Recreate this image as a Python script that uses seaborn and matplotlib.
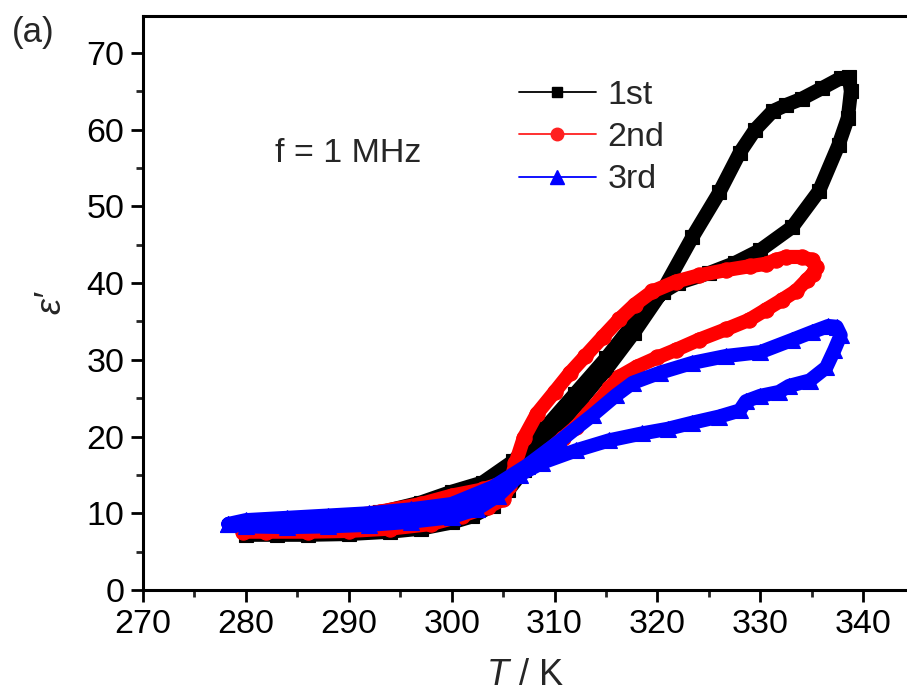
import numpy as np
import pandas as pd
import matplotlib
matplotlib.use("Agg")
import matplotlib.pyplot as plt
from matplotlib.lines import Line2D
from matplotlib.ticker import MultipleLocator
import seaborn as sns

# ---- data: dielectric constant vs temperature, three thermal cycles (f = 1 MHz) ----
t_1st = [280.0, 283, 286, 290, 294, 297, 300, 302, 304, 305.5, 307, 308.1, 310, 312.6,
         315, 317.7, 320.5, 323.4, 326, 328, 329.5, 331.2, 332.5, 334, 336, 337.8, 338.6,
         338.8, 338.5, 337.6, 335.7, 333.1, 330, 327.5, 325, 322, 320.5, 318, 315, 312,
         309, 306, 303, 300, 297, 293, 289, 285, 281, 280]
e_1st = [7.2, 7.2, 7.2, 7.3, 7.6, 8.0, 8.8, 9.6, 11.0, 13.0, 15.6, 17.8, 20.8, 24.8,
         28.7, 33.5, 39.0, 46.0, 51.8, 57.0, 60.0, 62.4, 63.2, 64.0, 65.4, 66.7, 66.8,
         65.0, 61.5, 58.0, 52.0, 47.3, 44.3, 42.6, 41.3, 40.0, 38.8, 35.3, 30.2, 25.6,
         21.0, 16.8, 14.0, 12.8, 11.4, 10.1, 9.1, 8.4, 7.9, 7.8]

t_2nd = [279.7, 282, 286, 290, 294, 298, 301, 303.5, 305, 305.6, 306.2, 307, 308.3, 310,
         311.5, 313, 314.7, 316.3, 317.8, 319.5, 321.8, 324, 326.7, 329, 330.5, 331.5,
         332.5, 334, 335, 335.4, 335.1, 334.5, 333.5, 332.1, 330.5, 328.9, 326.7, 324,
         321.8, 320, 318, 316.3, 315.3, 314.4, 313.2, 312.1, 310.8, 309.5, 307.3, 305.5,
         303, 300, 297, 293, 289, 285, 281, 279.7]
e_2nd = [7.6, 7.6, 7.6, 7.7, 8.0, 8.6, 9.7, 10.8, 11.8, 13.5, 16.5, 19.8, 23.0, 25.8,
         28.3, 30.5, 33.0, 35.3, 37.2, 38.9, 40.2, 41.0, 41.7, 42.2, 42.5, 43.0,
         43.4, 43.4, 43.0, 42.1, 41.2, 40.4, 39.0, 37.8, 36.5, 35.2, 34.0, 32.6,
         31.3, 30.3, 29.1, 27.8, 26.3, 24.8, 23.0, 21.3, 19.8, 18.3, 16.0, 14.2,
         13.1, 12.3, 11.2, 10.2, 9.4, 8.8, 8.3, 8.1]

t_3rd = [278.3, 280, 284, 288, 292, 296, 300, 302.5, 304.5, 306.6, 308.8, 312.1, 315.3,
         318.5, 321, 323.4, 326, 328, 328.6, 330, 331.8, 332.8, 334.8, 336.4, 337.2,
         337.8, 337.4, 336.6, 335, 333.1, 330, 326.7, 323.4, 320.2, 317.6, 316, 313.7,
         310.5, 307.3, 304, 302, 300, 296, 292, 288, 284, 280, 278.3]
e_3rd = [8.6, 8.3, 8.2, 8.3, 8.5, 8.9, 9.5, 10.6, 12.3, 15.0, 16.6, 18.2, 19.5,
         20.4, 21.0, 21.8, 22.6, 23.4, 24.6, 25.3, 25.8, 26.6, 27.3, 29.0, 31.3,
         33.2, 34.3, 34.4, 33.6, 32.6, 31.0, 30.5, 29.6, 28.3, 27.0, 25.4, 22.8,
         19.4, 16.2, 13.4, 12.3, 11.2, 10.5, 10.0, 9.7, 9.4, 9.1, 8.6]

cycle_labels = ["1st", "2nd", "3rd"]
cycle_colors = ["#000000", "#ff0000", "#0000ff"]
cycle_markers = ["s", "o", "^"]
marker_sizes = [10.5, 11.0, 12.0]

frames = []
for lab, t, e in zip(cycle_labels, [t_1st, t_2nd, t_3rd], [e_1st, e_2nd, e_3rd]):
    frames.append(pd.DataFrame({"T": t, "eps": e, "cycle": lab,
                                "order": np.arange(len(t))}))
df = pd.concat(frames, ignore_index=True)

# ---- style ----
sns.set_style("ticks")
plt.rcParams["font.family"] = ["Liberation Sans", "DejaVu Sans"]
plt.rcParams["mathtext.fontset"] = "custom"
plt.rcParams["mathtext.rm"] = "Liberation Sans"
plt.rcParams["mathtext.it"] = "Liberation Sans:italic"

fig = plt.figure(figsize=(9.07, 6.97), dpi=100)
ax = fig.add_axes([143 / 907, 1 - 590 / 697, 764 / 907, (590 - 16) / 697])

for lab, col, mk, ms in zip(cycle_labels, cycle_colors, cycle_markers, marker_sizes):
    sub = df[df["cycle"] == lab]
    sns.lineplot(data=sub, x="T", y="eps", sort=False, estimator=None, ax=ax,
                 color=col, linewidth=10.2, marker=mk, markersize=ms,
                 markeredgecolor=col, markeredgewidth=0.8,
                 solid_joinstyle="round", solid_capstyle="round", legend=False)

ax.set_xlim(270, 344.25)
ax.set_ylim(0, 74.8)
ax.xaxis.set_major_locator(MultipleLocator(10))
ax.xaxis.set_minor_locator(MultipleLocator(5))
ax.yaxis.set_major_locator(MultipleLocator(10))
ax.yaxis.set_minor_locator(MultipleLocator(5))

ax.tick_params(which="major", direction="out", length=8.5, width=2.0,
               labelsize=24.5, pad=5, colors="black")
ax.tick_params(which="minor", direction="out", length=5, width=2.0)
ax.xaxis.set_ticks_position("bottom")
ax.yaxis.set_ticks_position("left")

for side in ["left", "bottom", "top"]:
    ax.spines[side].set_linewidth(2.2)
    ax.spines[side].set_color("black")
ax.spines["right"].set_visible(False)

ax.set_xlabel(r"$T$ / K", fontsize=26, labelpad=13)
ax.set_ylabel("ε′", fontsize=26, fontstyle="italic", labelpad=13)

ax.text(282.8, 55.8, "f = 1 MHz", fontsize=24.5, ha="left", va="baseline")
fig.text(12 / 907, 1 - 42 / 697, "(a)", fontsize=25, ha="left", va="baseline")

handles = [Line2D([], [], color="#000000", lw=1.3, marker="s", markersize=7.5),
           Line2D([], [], color="#ff2020", lw=1.3, marker="o", markersize=9),
           Line2D([], [], color="#0000ff", lw=1.3, marker="^", markersize=10)]
ax.legend(handles, cycle_labels, loc="upper left",
          bbox_to_anchor=(519 / 907, 1 - 80 / 697), bbox_transform=fig.transFigure,
          frameon=False, fontsize=24.5, borderpad=0, borderaxespad=0,
          handlelength=2.25, handletextpad=0.35, labelspacing=0.33)

fig.savefig("out.png", dpi=100)
